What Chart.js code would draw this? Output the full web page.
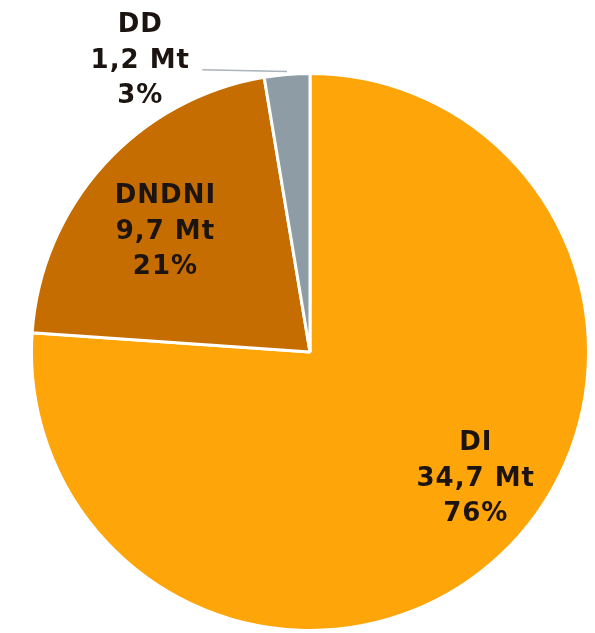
<!DOCTYPE html>
<html><head><meta charset="utf-8">
<script src="https://cdn.jsdelivr.net/npm/chart.js@4.4.1/dist/chart.umd.min.js"></script>
<style>html,body{margin:0;padding:0;background:#fff;}#wrap{width:595px;height:633px;}</style>
</head><body>
<div id="wrap"><canvas id="c" width="595" height="633"></canvas></div>
<script>
const categories = ['DI', 'DNDNI', 'DD'];
const valuesMt = [34.7, 9.7, 1.2];
const percentLabels = ['76%', '21%', '3%'];
const colors = ['#FDA509', '#C66D02', '#8E9DA5'];

// label placement relative to each arc: [angle offset deg, radius fraction]
const labelPlace = [[-9.5, 0.75], [-2.5, 0.675], [-25.5, 1.21]];

const labelPlugin = {
  id: 'sliceLabels',
  afterDatasetsDraw(chart) {
    const ctx = chart.ctx;
    const meta = chart.getDatasetMeta(0);
    ctx.save();
    ctx.font = 'bold 26px "DejaVu Sans", Verdana, sans-serif';
    try { ctx.letterSpacing = '1px'; } catch (e) {}
    ctx.fillStyle = '#1c1410';
    ctx.textAlign = 'center';
    ctx.textBaseline = 'middle';
    meta.data.forEach((arc, i) => {
      const p = arc.getProps(['x', 'y', 'startAngle', 'endAngle', 'outerRadius'], true);
      const mid = (p.startAngle + p.endAngle) / 2 + labelPlace[i][0] * Math.PI / 180;
      const r = p.outerRadius * labelPlace[i][1];
      const lx = p.x + Math.cos(mid) * r;
      const ly = p.y + Math.sin(mid) * r;
      const lines = [categories[i], valuesMt[i].toFixed(1).replace('.', ',') + ' Mt', percentLabels[i]];
      const lh = 35.5;
      lines.forEach((t, k) => ctx.fillText(t, lx, ly + (k - 1) * lh));
      if (i === 2) {
        const em = (p.startAngle + p.endAngle) / 2;
        const ex = p.x + Math.cos(em) * p.outerRadius;
        const ey = p.y + Math.sin(em) * p.outerRadius;
        ctx.strokeStyle = '#A9B4BC';
        ctx.lineWidth = 1.5;
        ctx.beginPath();
        ctx.moveTo(lx + 62, ly + 9);
        ctx.lineTo(ex, ey - 3);
        ctx.stroke();
      }
    });
    ctx.restore();
  }
};

new Chart(document.getElementById('c'), {
  type: 'pie',
  data: {
    labels: categories,
    datasets: [{
      data: valuesMt,
      backgroundColor: colors,
      borderColor: '#ffffff',
      borderWidth: 3
    }]
  },
  options: {
    responsive: false,
    animation: false,
    layout: { padding: { left: 30, right: 5, top: 72, bottom: 1 } },
    plugins: { legend: { display: false }, tooltip: { enabled: false } }
  },
  plugins: [labelPlugin]
});
</script>
</body></html>
